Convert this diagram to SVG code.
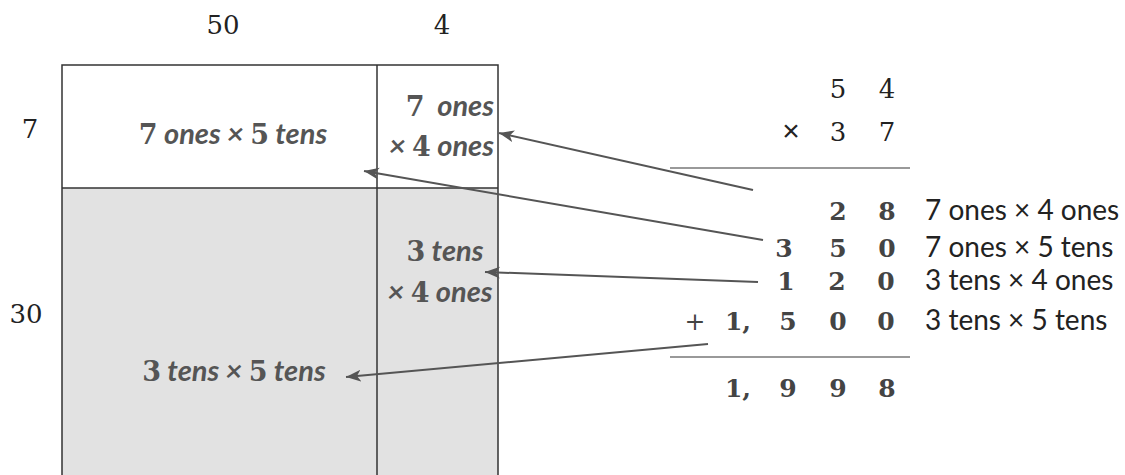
<svg xmlns="http://www.w3.org/2000/svg" width="1125" height="475" viewBox="0 0 1125 475">
<style>
.num{font-family:"DejaVu Serif","Liberation Serif",serif;font-size:26px;fill:#222;text-anchor:middle}
.dig{font-family:"DejaVu Serif","Liberation Serif",serif;font-size:25px;fill:#444;font-weight:bold;text-anchor:middle}
.lbl{font-family:Lato,"Open Sans",sans-serif;font-size:28px;fill:#222}
.box{font-family:Lato,"Open Sans",sans-serif;font-size:29px;fill:#555;font-style:italic;font-weight:bold}
.bd{font-family:"DejaVu Serif","Liberation Serif",serif;font-style:normal;font-weight:bold;font-size:27px}
.ln{stroke:#333;stroke-width:1.5;fill:none}
.conn{stroke:#555;stroke-width:2;fill:none;marker-end:url(#ah)}
.rule{stroke:#777;stroke-width:1.5}
</style>
<defs>
<marker id="ah" markerUnits="userSpaceOnUse" markerWidth="16" markerHeight="14" refX="15" refY="6" orient="auto">
<path d="M0,0 L15,6 L0,12 L4,6 z" fill="#555"/>
</marker>
</defs>
<rect width="1125" height="475" fill="#fff"/>
<g id="area-model">
<rect x="62" y="188" width="436" height="295" fill="#e2e2e2"/>
<rect x="62" y="65" width="436" height="418" class="ln"/>
<line x1="377" y1="65" x2="377" y2="483" class="ln"/>
<line x1="62" y1="188" x2="498" y2="188" class="ln"/>
</g>
<g id="dim-labels">
<text class="num" x="223" y="34">50</text>
<text class="num" x="442" y="34">4</text>
<text class="num" x="30" y="138">7</text>
<text class="num" x="26" y="323">30</text>
</g>
<g id="cell-7x50"><text class="box" x="233" y="144" text-anchor="middle"><tspan class="bd">7</tspan> ones × <tspan class="bd">5</tspan> tens</text></g>
<g id="cell-7x4">
<text class="box" x="494" y="116" text-anchor="end" xml:space="preserve"><tspan class="bd">7</tspan>  ones</text>
<text class="box" x="494" y="156" text-anchor="end">× <tspan class="bd">4</tspan> ones</text>
</g>
<g id="cell-30x4">
<text class="box" x="445" y="261" text-anchor="middle"><tspan class="bd">3</tspan> tens</text>
<text class="box" x="440" y="302" text-anchor="middle">× <tspan class="bd">4</tspan> ones</text>
</g>
<g id="cell-30x50"><text class="box" x="234" y="381" text-anchor="middle"><tspan class="bd">3</tspan> tens × <tspan class="bd">5</tspan> tens</text></g>
<g id="algorithm">
<text class="num" x="838" y="98">5</text>
<text class="num" x="887" y="98">4</text>
<text class="num" x="791" y="141" style="font-family:'Liberation Sans',sans-serif;font-size:30px">×</text>
<text class="num" x="838" y="141">3</text>
<text class="num" x="887" y="141">7</text>
<line x1="670" y1="168" x2="910" y2="168" class="rule"/>
<text class="dig" x="838" y="220">2</text>
<text class="dig" x="887" y="220">8</text>
<text class="dig" x="784" y="257">3</text>
<text class="dig" x="838" y="257">5</text>
<text class="dig" x="887" y="257">0</text>
<text class="dig" x="786" y="290">1</text>
<text class="dig" x="837" y="290">2</text>
<text class="dig" x="886" y="290">0</text>
<text class="dig" x="695" y="330" style="font-weight:normal">+</text>
<text class="dig" x="738" y="330">1,</text>
<text class="dig" x="788" y="330">5</text>
<text class="dig" x="838" y="330">0</text>
<text class="dig" x="886" y="330">0</text>
<line x1="670" y1="357" x2="910" y2="357" class="rule"/>
<text class="dig" x="738" y="397">1,</text>
<text class="dig" x="788" y="397">9</text>
<text class="dig" x="838" y="397">9</text>
<text class="dig" x="887" y="397">8</text>
<text class="lbl" x="925" y="220">7 ones × 4 ones</text>
<text class="lbl" x="925" y="257">7 ones × 5 tens</text>
<text class="lbl" x="925" y="290">3 tens × 4 ones</text>
<text class="lbl" x="925" y="330">3 tens × 5 tens</text>
</g>
<g id="connectors">
<line class="conn" x1="753" y1="190" x2="499" y2="133"/>
<line class="conn" x1="763" y1="240" x2="364" y2="171"/>
<line class="conn" x1="758" y1="282" x2="485" y2="272"/>
<line class="conn" x1="708" y1="344" x2="346" y2="377"/>
</g>
</svg>
